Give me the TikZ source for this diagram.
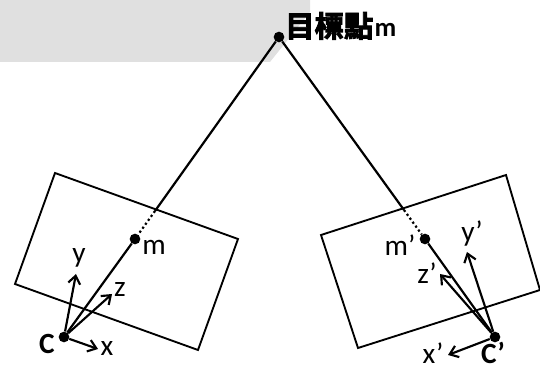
\documentclass[tikz,border=0pt]{standalone}
\usepackage{fontspec}
\setmainfont{Carlito}
\newfontfamily\cjk{Noto Sans CJK TC}[BoldFont={* Bold},BoldFeatures={FakeBold=3}]
\usetikzlibrary{arrows.meta}
\tikzset{
 x=0.75pt,y=-0.75pt,
 ray/.style={line width=1.65pt,black},
 plane/.style={draw,line width=1.4pt},
 axis/.style={line width=1.6pt,-{Straight Barb[length=6pt,width=9pt]}},
 dot/.style={circle,fill=black,inner sep=0pt,minimum size=8pt},
 lab/.style={font=\fontsize{22pt}{23pt}\selectfont,inner sep=0pt,anchor=base},
 blab/.style={font=\fontsize{22pt}{23pt}\selectfont\bfseries,inner sep=0pt,anchor=base},
}
\begin{document}
\begin{tikzpicture}
\useasboundingbox (0,0) rectangle (540,367);
\fill[black!12] (0,0) -- (310,0) -- (310,12) -- (270,62) -- (0,62) -- cycle;
% left plane
\draw[plane] (55,173) -- (238,239) -- (198,350) -- (15,284) -- cycle;
% right plane
\draw[plane] (321,235) -- (506,175) -- (540,290) -- (358,348) -- cycle;
\node[dot] (T) at (279,37) {};
\node[dot] (m) at (135,239) {};
\node[dot] (mp) at (425,239) {};
\node[dot] (C) at (64,337) {};
\node[dot] (Cp) at (495,337) {};
\coordinate (a) at (155,211);
\coordinate (b) at (404,210);
\draw[ray] (T) -- (a);
\draw[ray] (T) -- (b);
\draw[line width=1.65pt,dotted] (a) -- (m);
\draw[line width=1.65pt,dotted] (b) -- (mp);
\draw[ray] (C) -- (m);
\draw[ray] (Cp) -- (mp);
\coordinate (xe) at (98,349);
\coordinate (ye) at (76,274);
\coordinate (ze) at (112,294);
\coordinate (xpe) at (448,355);
\coordinate (ype) at (467,252);
\coordinate (zpe) at (440,274);
\draw[axis] (C) -- (xe);
\draw[axis] (C) -- (ye);
\draw[axis] (C) -- (ze);
\draw[axis] (Cp) -- (xpe);
\draw[axis] (Cp) -- (ype);
\draw[axis] (Cp) -- (zpe);
\node[lab] (lm) at (154,255) {m};
\node[lab] (ly) at (79,263) {y};
\node[lab] (lz) at (120,297) {z};
\node[lab] (lx) at (107,356) {x};
\node[blab] (lC) at (47,354) {C};
\node[lab] (lmp) at (400,256) {m’};
\node[lab] (lyp) at (472,242) {y’};
\node[lab] (lzp) at (427,284) {z’};
\node[lab] (lxp) at (433,364) {x’};
\node[blab] (lCp) at (493,364) {C’};
\node[inner sep=0pt,anchor=base west] (t) at (285,37) {\fontsize{22pt}{23pt}\selectfont\cjk\bfseries 目標點\hspace{1pt}\fontsize{20pt}{20pt}\selectfont\rmfamily\bfseries m};
\end{tikzpicture}
\end{document}
